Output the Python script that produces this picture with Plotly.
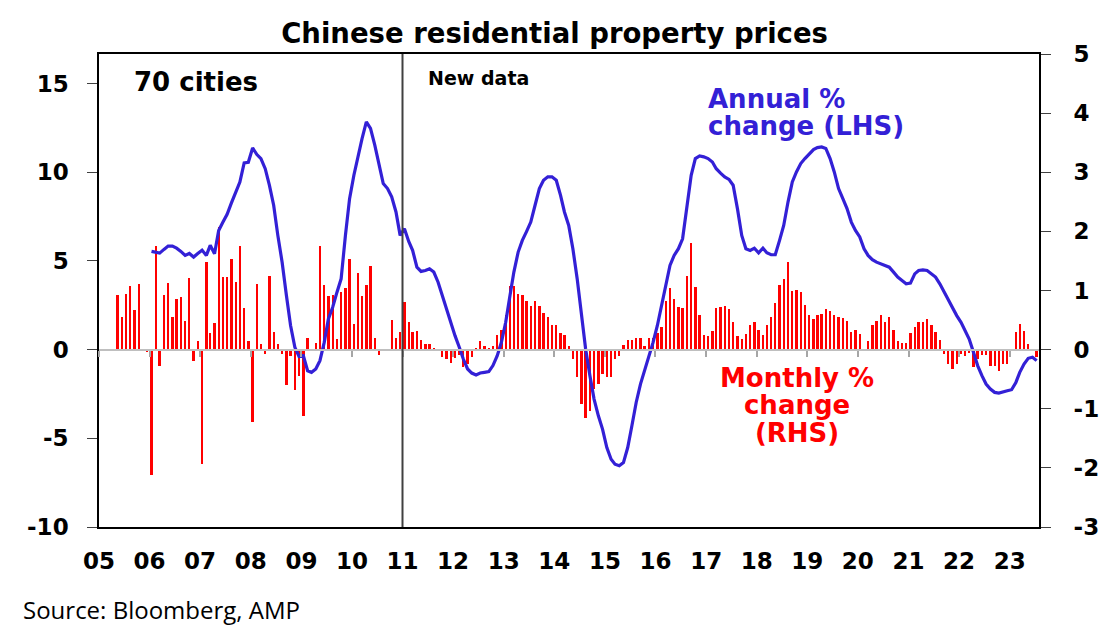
import pandas as pd
import plotly.graph_objects as go

# Monthly % change (RHS), 70 cities, from May 2005
monthly_2005 = [0.93, 0.56, 0.94, 1.07, 0.67, 1.11, -0.02, -0.04]
monthly_2006 = [-2.12, 1.76, -0.28, 0.93, 1.12, 0.56, 0.85, 0.89, 0.48, 1.21, -0.20, 0.14]
monthly_2007 = [-1.94, 1.48, 0.28, 0.45, 2.08, 1.23, 1.23, 1.54, 1.14, 1.76, 0.71, 0.14]
monthly_2008 = [-1.22, 1.11, 0.10, -0.08, 1.25, 0.29, 0.10, -0.07, -0.59, -0.10, -0.68, -0.45]
monthly_2009 = [-1.12, 0.20, 0.00, 0.11, 1.76, 1.10, 0.90, 0.92, 0.18, 0.97, 1.04, 1.53]
monthly_2010 = [0.44, 1.30, 0.90, 1.10, 1.41, 0.20, -0.09, 0.00, 0.00, 0.50, 0.20, 0.30]
monthly_2011 = [0.80, 0.46, 0.29, 0.31, 0.16, 0.10, 0.10, 0.02, -0.01, -0.13, -0.16, -0.23]
monthly_2012 = [-0.15, -0.09, -0.30, -0.24, -0.13, 0.02, 0.14, 0.06, 0.02, 0.06, 0.25, 0.34]
monthly_2013 = [0.58, 1.08, 1.08, 0.94, 0.92, 0.83, 0.73, 0.83, 0.73, 0.62, 0.55, 0.41]
monthly_2014 = [0.41, 0.28, 0.24, 0.06, -0.16, -0.47, -0.92, -1.15, -1.03, -0.67, -0.58, -0.41]
monthly_2015 = [-0.46, -0.46, -0.16, -0.10, 0.07, 0.17, 0.16, 0.19, 0.20, 0.06, 0.19, 0.20]
monthly_2016 = [0.28, 0.38, 0.82, 1.05, 0.85, 0.72, 0.71, 1.25, 1.80, 1.06, 0.58, 0.25]
monthly_2017 = [0.23, 0.32, 0.70, 0.72, 0.74, 0.69, 0.47, 0.23, 0.18, 0.27, 0.41, 0.47]
monthly_2018 = [0.33, 0.24, 0.41, 0.56, 0.79, 1.10, 1.20, 1.49, 0.99, 1.01, 0.97, 0.75]
monthly_2019 = [0.59, 0.52, 0.59, 0.61, 0.69, 0.65, 0.58, 0.56, 0.53, 0.49, 0.29, 0.33]
monthly_2020 = [0.27, 0.01, 0.14, 0.42, 0.48, 0.58, 0.47, 0.56, 0.34, 0.14, 0.12, 0.12]
monthly_2021 = [0.28, 0.39, 0.46, 0.47, 0.51, 0.41, 0.29, 0.16, -0.07, -0.24, -0.32, -0.24]
monthly_2022 = [-0.07, -0.11, -0.06, -0.30, -0.16, -0.09, -0.09, -0.27, -0.27, -0.36, -0.24, -0.24]
monthly_2023 = [0.00, 0.29, 0.44, 0.32, 0.10, -0.03, -0.13]

# Annual % change (LHS), from Jan 2006
annual_2006 = [5.54, 5.50, 5.44, 5.65, 5.84, 5.84, 5.72, 5.54, 5.31, 5.42, 5.22, 5.42]
annual_2007 = [5.61, 5.31, 5.88, 5.40, 6.72, 7.19, 7.63, 8.27, 8.93, 9.45, 10.53, 10.56]
annual_2008 = [11.37, 11.00, 10.77, 10.20, 9.27, 8.14, 6.44, 4.93, 3.05, 1.36, 0.13, -0.38]
annual_2009 = [-0.34, -1.19, -1.28, -1.09, -0.62, 0.41, 1.73, 2.39, 3.24, 3.99, 6.44, 8.51]
annual_2010 = [9.83, 10.96, 11.90, 12.84, 12.47, 11.53, 10.40, 9.36, 9.08, 8.61, 7.76, 6.44]
annual_2011 = [6.82, 6.10, 5.60, 4.65, 4.41, 4.46, 4.56, 4.37, 3.80, 3.05, 2.30, 1.64]
annual_2012 = [0.79, 0.13, -0.53, -1.09, -1.32, -1.43, -1.32, -1.28, -1.24, -0.90, -0.34, 0.41]
annual_2013 = [1.54, 3.05, 4.37, 5.50, 6.16, 6.67, 7.19, 8.14, 9.08, 9.55, 9.74, 9.74]
annual_2014 = [9.55, 8.70, 7.76, 7.00, 5.69, 4.00, 1.92, 0.04, -1.47, -2.79, -3.73, -4.48]
annual_2015 = [-5.52, -6.18, -6.46, -6.55, -6.37, -5.52, -4.29, -2.98, -1.94, -1.19, -0.43, 0.41]
annual_2016 = [1.36, 2.49, 3.62, 4.75, 5.31, 5.69, 6.25, 8.14, 9.83, 10.77, 10.92, 10.87]
annual_2017 = [10.77, 10.58, 10.20, 9.95, 9.74, 9.60, 9.27, 7.95, 6.44, 5.69, 5.59, 5.72]
annual_2018 = [5.46, 5.72, 5.46, 5.35, 5.35, 6.16, 7.00, 8.32, 9.45, 10.02, 10.49, 10.77]
annual_2019 = [11.05, 11.28, 11.39, 11.43, 11.34, 10.77, 10.02, 9.08, 8.51, 7.95, 7.19, 6.72]
annual_2020 = [6.35, 5.69, 5.31, 5.07, 4.93, 4.84, 4.78, 4.65, 4.37, 4.09, 3.90, 3.71]
annual_2021 = [3.75, 4.27, 4.46, 4.50, 4.46, 4.27, 4.09, 3.71, 3.24, 2.77, 2.30, 1.92]
annual_2022 = [1.54, 1.07, 0.60, -0.15, -0.90, -1.47, -1.94, -2.22, -2.41, -2.45, -2.37, -2.32]
annual_2023 = [-2.26, -1.85, -1.28, -0.81, -0.49, -0.43, -0.62]

monthly = (monthly_2005 + monthly_2006 + monthly_2007 + monthly_2008 + monthly_2009
           + monthly_2010 + monthly_2011 + monthly_2012 + monthly_2013 + monthly_2014
           + monthly_2015 + monthly_2016 + monthly_2017 + monthly_2018 + monthly_2019
           + monthly_2020 + monthly_2021 + monthly_2022 + monthly_2023)
annual = (annual_2006 + annual_2007 + annual_2008 + annual_2009 + annual_2010
          + annual_2011 + annual_2012 + annual_2013 + annual_2014 + annual_2015
          + annual_2016 + annual_2017 + annual_2018 + annual_2019 + annual_2020
          + annual_2021 + annual_2022 + annual_2023)

# bars sit in the middle of each month
monthly_dates = pd.date_range("2005-05-01", periods=len(monthly), freq="MS") + pd.Timedelta(days=14)
annual_dates = pd.date_range("2006-01-01", periods=len(annual), freq="MS") + pd.Timedelta(days=14)

x_range = ["2005-01-01", "2023-08-01"]
new_data_start = "2011-01-01"
lhs_ticks = [-10, -5, 0, 5, 10, 15]
lhs_labels = ["-10", "-5", "0", "5", "10", "15"]
rhs_ticks = [-3, -2, -1, 0, 1, 2, 3, 4, 5]
rhs_labels = ["-3", "-2", "-1", "0", "1", "2", "3", "4", "5"]

BLUE = "#3320D6"
RED = "#FF0000"
BOLD = "DejaVu Sans"

fig = go.Figure()

fig.add_trace(go.Bar(
    x=monthly_dates, y=monthly, xaxis="x", yaxis="y",
    marker=dict(color=RED, line=dict(width=0)),
    width=17 * 86400000, name="Monthly % change (RHS)",
))

fig.add_trace(go.Scatter(
    x=annual_dates, y=annual, xaxis="x2", yaxis="y2", mode="lines",
    line=dict(color=BLUE, width=3.2), name="Annual % change (LHS)",
))

tickfont = dict(family=BOLD, size=23, color="black", weight="bold")

# the page body adds 8px on the left/top, margins are set with that in mind
fig.update_layout(
    width=1120, height=643,
    margin=dict(l=91, r=89, t=46, b=124),
    paper_bgcolor="white", plot_bgcolor="white",
    showlegend=False, bargap=0,
    title=dict(text="Chinese residential property prices", x=0.488, xanchor="center",
               y=0.960, yanchor="middle",
               font=dict(family=BOLD, size=27.5, color="black", weight="bold")),
    xaxis=dict(type="date", range=x_range, dtick="M12", tick0="2005-01-01", tickformat="%y",
               showline=True, linecolor="black", linewidth=1.5, mirror=True,
               ticks="", showgrid=False, zeroline=False, tickfont=tickfont,
               ticklabelstandoff=13),
    xaxis2=dict(type="date", range=x_range, dtick="M12", tick0="2005-01-01",
                overlaying="x", anchor="free", position=0.375,
                showline=True, linecolor="#BFBFBF", linewidth=2,
                ticks="outside", ticklen=6, tickwidth=1.5, tickcolor="#A6A6A6",
                showticklabels=False, showgrid=False, zeroline=False),
    yaxis=dict(side="right", range=[-3, 5], tickvals=rhs_ticks, ticktext=rhs_labels,
               showline=True, linecolor="black", linewidth=2,
               ticks="outside", ticklen=10, tickcolor="#404040",
               showgrid=False, zeroline=False, tickfont=tickfont,
               ticklabelstandoff=18),
    yaxis2=dict(side="left", overlaying="y", anchor="x", range=[-10, 50 / 3],
                tickvals=lhs_ticks, ticktext=lhs_labels,
                showline=True, linecolor="black", linewidth=1.5,
                ticks="outside", ticklen=10, tickcolor="#404040",
                showgrid=False, zeroline=False, tickfont=tickfont,
                ticklabelstandoff=14),
)

fig.add_shape(type="line", xref="x", yref="paper", x0=new_data_start, x1=new_data_start,
              y0=0, y1=1, line=dict(color="#404040", width=2))

fig.add_annotation(text="70 cities", x=0.035, y=0.941, xref="paper", yref="paper",
                   xanchor="left", yanchor="middle", showarrow=False,
                   font=dict(family=BOLD, size=26, color="black", weight="bold"))
fig.add_annotation(text="New data", x=0.348, y=0.949, xref="paper", yref="paper",
                   xanchor="left", yanchor="middle", showarrow=False,
                   font=dict(family=BOLD, size=19, color="black", weight="bold"))

# small base size keeps the line spacing tight, the span sets the glyph size
big = '<span style="font-size:26px">{}</span>'
fig.add_annotation(text=big.format("Annual %") + "<br>" + big.format("change (LHS)"),
                   x=0.6457, y=0.877, xref="paper", yref="paper", align="left",
                   xanchor="left", yanchor="middle", showarrow=False,
                   font=dict(family=BOLD, size=21, color=BLUE, weight="bold"))
fig.add_annotation(text="<br>".join(big.format(t) for t in ["Monthly %", "change", "(RHS)"]),
                   x=0.7426, y=0.257, xref="paper", yref="paper", align="center",
                   xanchor="center", yanchor="middle", showarrow=False,
                   font=dict(family=BOLD, size=21, color=RED, weight="bold"))

fig.add_annotation(text="Source: Bloomberg, AMP", x=-0.083, y=-0.175, xref="paper", yref="paper",
                   xanchor="left", yanchor="middle", showarrow=False,
                   font=dict(family="Open Sans", size=24, color="black"))

fig.write_html("out.html")
